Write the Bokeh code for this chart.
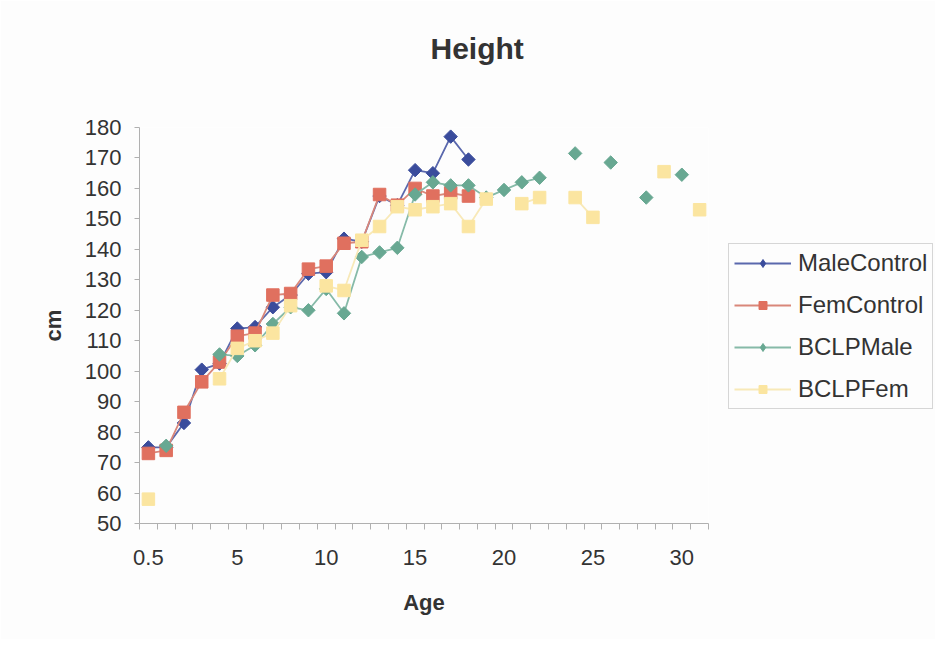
import numpy as np
from bokeh.plotting import figure
from bokeh.models import FixedTicker, Range1d, Legend, LegendItem, ColumnDataSource, Title
from bokeh.embed import file_html
from bokeh.resources import INLINE

nan = np.nan

ages = ["0.5"] + [str(i) for i in range(1, 32)]
tick_labels = ["0.5", "5", "10", "15", "20", "25", "30"]

male_control = [75, 75, 83, 100.5, 102.5, 114, 114.5, 121, 125, 132, 132.5, 143.5, 142.5,
                157.5, 154.5, 166, 165, 177, 169.5] + [nan] * 13
fem_control = [73, 74, 86.5, 96.5, 103, 111.5, 112.5, 125, 125.5, 133.5, 134.5, 142, 142.5,
               158, 154.5, 160, 157.5, 158.5, 157.5] + [nan] * 13
bclp_male = [nan, 75.5, nan, nan, 105.5, 105, 108.5, 115.5, 121, 120, 127, 119, 137.5,
             139, 140.5, 158, 162, 161, 161, 157, 159.5, 162, 163.5, nan, 171.5, nan,
             168.5, nan, 157, nan, 164.5, nan]
bclp_fem = [58, nan, nan, nan, 97.5, 107.5, 110, 112.5, 121.5, nan, 128, 126.5, 143,
            147.5, 154, 153, 154, 155, 147.5, 156.5, nan, 155, 157, nan, 157, 150.5,
            nan, nan, nan, 165.5, nan, 153]

series = [
    ("MaleControl", male_control, "#3a4c9c", "#5a68ad", "diamond"),
    ("FemControl", fem_control, "#e0705f", "#d9877a", "square"),
    ("BCLPMale", bclp_male, "#68a892", "#86baa8", "diamond"),
    ("BCLPFem", bclp_fem, "#fbe5a0", "#f8e9b8", "square"),
]

FONT = "Liberation Sans"
TXT = "#333333"
AX = "#b0b0b0"

pos = list(range(len(ages)))

p = figure(frame_width=569, frame_height=396, output_backend="svg", toolbar_location=None,
           title=None,
           x_range=Range1d(-0.5, len(ages) - 0.5), y_range=Range1d(50, 180),
           min_border_left=139, min_border_right=0, min_border_top=127, min_border_bottom=116)
p.background_fill_color = "#fdfdfd"
p.border_fill_color = "#fdfdfd"
p.outline_line_color = None
p.xgrid.visible = False
p.ygrid.visible = False

# spacer between frame and title, then the title itself
p.add_layout(Title(text=" ", text_font_size="10px", standoff=50), "above")
p.add_layout(Title(text="Height", align="left", offset=291, standoff=0,
                   text_font=FONT, text_font_size="30px", text_font_style="bold",
                   text_color=TXT), "above")

label_idx = [ages.index(t) for t in tick_labels]
p.xaxis.ticker = FixedTicker(ticks=label_idx,
                             minor_ticks=[i - 0.5 for i in range(len(ages) + 1)])
p.xaxis.major_label_overrides = {i: t for i, t in zip(label_idx, tick_labels)}
p.xaxis.major_tick_line_color = None
p.xaxis.major_tick_out = 6
p.xaxis.major_tick_in = 0
p.xaxis.minor_tick_out = 6
p.xaxis.minor_tick_in = 0
p.xaxis.minor_tick_line_color = AX
p.xaxis.major_label_standoff = 20
p.xaxis.axis_label = "Age"
p.xaxis.axis_label_standoff = 22

p.yaxis.ticker = FixedTicker(ticks=list(range(50, 181, 10)), minor_ticks=[])
p.yaxis.major_tick_out = 5
p.yaxis.major_tick_in = 0
p.yaxis.major_tick_line_color = AX
p.yaxis.major_label_standoff = 13
p.yaxis.axis_label = "cm"
p.yaxis.axis_label_standoff = 16

for ax in (p.xaxis, p.yaxis):
    ax.axis_line_color = AX
    ax.major_label_text_font = FONT
    ax.major_label_text_font_size = "22px"
    ax.major_label_text_color = TXT
    ax.axis_label_text_font = FONT
    ax.axis_label_text_font_size = "22px"
    ax.axis_label_text_font_style = "bold"
    ax.axis_label_text_color = TXT

items = []
for name, vals, mcol, lcol, mk in series:
    src = ColumnDataSource(dict(x=pos, y=vals))
    ln = p.line("x", "y", source=src, line_color=lcol, line_width=1.8)
    if mk == "diamond":
        p.scatter("x", "y", source=src, marker="square", angle=np.pi / 4, size=9.5,
                  fill_color=mcol, line_color=mcol)
        lg = p.scatter(x=[nan], y=[nan], marker="diamond", size=13,
                       fill_color=mcol, line_color=mcol)
    else:
        lg = p.scatter("x", "y", source=src, marker="square", size=12.5,
                       fill_color=mcol, line_color=mcol)
    items.append(LegendItem(label=name, renderers=[ln, lg]))

legend = Legend(items=items, location=(20, 114), orientation="vertical",
                label_text_font=FONT, label_text_font_size="24px", label_text_color=TXT,
                glyph_width=57, glyph_height=20, label_height=20, label_standoff=7,
                spacing=14, padding=5, margin=0,
                border_line_color="#b0b0b0", background_fill_color="#fdfdfd")
p.add_layout(legend, "right")

open("out.html", "w").write(file_html(p, INLINE))
